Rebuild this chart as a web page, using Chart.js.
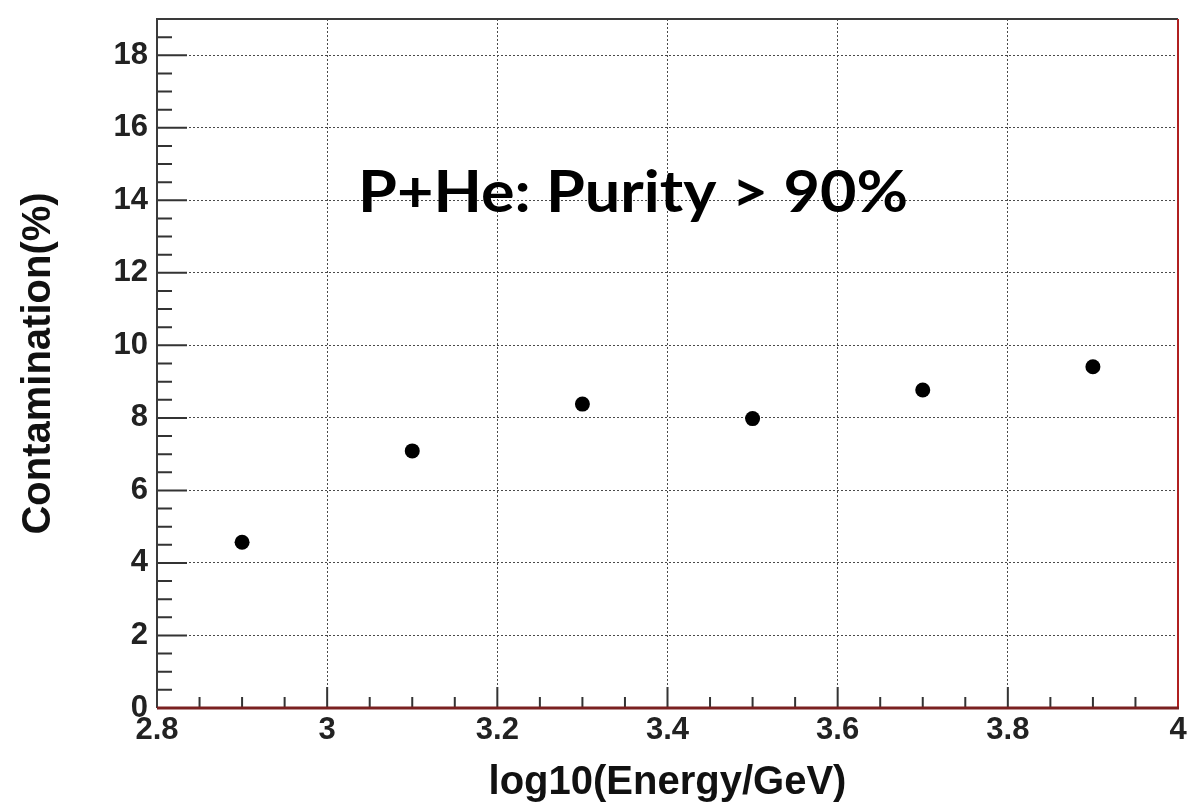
<!DOCTYPE html>
<html>
<head>
<meta charset="utf-8">
<script src="https://cdn.jsdelivr.net/npm/chart.js@4.4.0/dist/chart.umd.min.js"></script>
<style>
  html, body { margin: 0; padding: 0; background: #fff; }
  #wrap { width: 1187px; height: 804px; }
</style>
</head>
<body>
<div id="wrap"><canvas id="contamChart"></canvas></div>
<script>
// log10(E/GeV) bin centres and contamination per bin (%)
const energyBins = [2.9, 3.1, 3.3, 3.5, 3.7, 3.9];
const contamination = [4.57, 7.09, 8.38, 7.98, 8.77, 9.41];

const xRange = [2.8, 4.0];
const yRange = [0, 19];
const xStep = 0.2, yStep = 2;
const xMinorStep = 0.05, yMinorStep = 0.5;

const xTitle = "log10(Energy/GeV)";
const yTitle = "Contamination(%)";
const purityLabel = "P+He: Purity > 90%";

const axisFont = "'Liberation Sans', Arial, sans-serif";

function isMultiple(v, step) {
  const r = v / step;
  return Math.abs(r - Math.round(r)) < 1e-6;
}

// ROOT-like frame: inward ticks, dark top/left, red bottom/right, text box
const rootFrame = {
  id: "rootFrame",
  afterDraw(chart) {
    const { ctx, chartArea: a, scales } = chart;
    const xs = scales.x, ys = scales.y;
    ctx.save();

    ctx.strokeStyle = "#333";
    ctx.lineWidth = 2;
    ctx.beginPath();
    let n = Math.round((yRange[1] - yRange[0]) / yMinorStep);
    for (let i = 1; i < n; i++) {
      const v = yRange[0] + i * yMinorStep;
      const py = ys.getPixelForValue(v);
      const len = isMultiple(v, yStep) ? 30 : 15;
      ctx.moveTo(a.left, py);
      ctx.lineTo(a.left + len, py);
    }
    n = Math.round((xRange[1] - xRange[0]) / xMinorStep);
    for (let i = 1; i < n; i++) {
      const v = xRange[0] + i * xMinorStep;
      const px = xs.getPixelForValue(v);
      const len = isMultiple(v - xRange[0], xStep) ? 21 : 11;
      ctx.moveTo(px, a.bottom);
      ctx.lineTo(px, a.bottom - len);
    }
    ctx.stroke();

    // frame
    ctx.lineWidth = 2;
    ctx.strokeStyle = "#3a3a3a";
    ctx.beginPath();
    ctx.moveTo(a.left, a.bottom);
    ctx.lineTo(a.left, a.top);
    ctx.lineTo(a.right, a.top);
    ctx.stroke();
    ctx.strokeStyle = "#b02020";
    ctx.beginPath();
    ctx.moveTo(a.right, a.top);
    ctx.lineTo(a.right, a.bottom);
    ctx.stroke();
    ctx.lineWidth = 3;
    ctx.strokeStyle = "#7a2020";
    ctx.beginPath();
    ctx.moveTo(a.left, a.bottom);
    ctx.lineTo(a.right + 1, a.bottom);
    ctx.stroke();

    // purity label
    ctx.font = "bold 58px Lato, 'Open Sans', sans-serif";
    ctx.fillStyle = "#000";
    ctx.textBaseline = "alphabetic";
    const w = ctx.measureText(purityLabel).width;
    ctx.translate(a.left + 201, 212);
    ctx.scale(550 / w, 1);
    ctx.fillText(purityLabel, 0, 0);
    ctx.restore();
  }
};

const gridStyle = {
  color: "#4a4a4a",
  lineWidth: 1,
  drawTicks: false
};

new Chart(document.getElementById("contamChart"), {
  type: "scatter",
  data: {
    datasets: [{
      data: energyBins.map((x, i) => ({ x, y: contamination[i] })),
      pointRadius: 7.5,
      pointHoverRadius: 7.5,
      backgroundColor: "#000",
      borderWidth: 0,
      showLine: false
    }]
  },
  options: {
    responsive: true,
    maintainAspectRatio: false,
    animation: false,
    layout: { padding: { top: 19, right: 9, left: 0, bottom: 0 } },
    plugins: { legend: { display: false }, tooltip: { enabled: false } },
    scales: {
      x: {
        type: "linear",
        min: xRange[0],
        max: xRange[1],
        grid: gridStyle,
        border: { display: false, dash: [2, 2] },
        ticks: {
          stepSize: xStep,
          color: "#222",
          padding: 4,
          maxRotation: 0,
          font: { family: axisFont, size: 31, weight: "bold" },
          callback: v => String(+(+v).toFixed(2))
        },
        title: {
          display: true,
          text: xTitle,
          color: "#111",
          font: { family: axisFont, size: 40, weight: "bold", lineHeight: 1 },
          padding: { top: 0, bottom: 1 }
        },
        afterFit: s => { s.height = 96; s.paddingLeft = 0; s.paddingRight = 0; }
      },
      y: {
        type: "linear",
        min: yRange[0],
        max: yRange[1],
        grid: gridStyle,
        border: { display: false, dash: [2, 2] },
        afterBuildTicks: s => { s.ticks = s.ticks.filter(t => isMultiple(t.value, yStep)); },
        ticks: {
          stepSize: yStep,
          color: "#222",
          padding: 9,
          font: { family: axisFont, size: 31, weight: "bold" },
          callback: v => String(v)
        },
        title: {
          display: true,
          text: yTitle,
          color: "#111",
          font: { family: axisFont, size: 40, weight: "bold", lineHeight: 1 },
          padding: { top: 19, bottom: 0 }
        },
        afterFit: s => { s.width = 157; s.paddingTop = 0; s.paddingBottom = 0; }
      }
    }
  },
  plugins: [rootFrame]
});
</script>
</body>
</html>
